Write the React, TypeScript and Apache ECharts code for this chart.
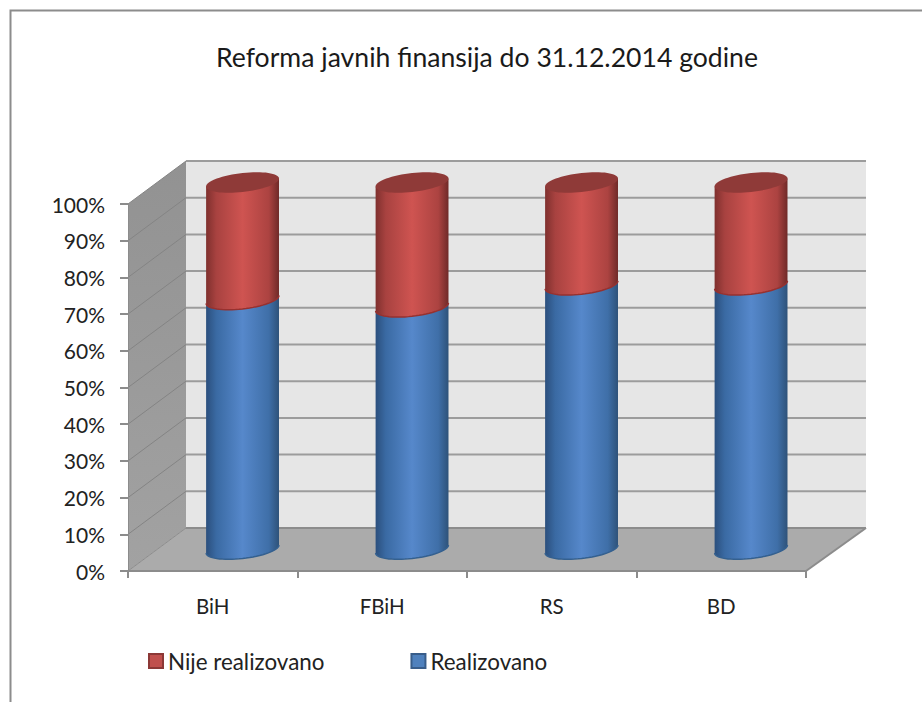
import React, { useEffect, useRef } from "react";
import * as echarts from "echarts";

const titleText = "Reforma javnih finansija do 31.12.2014 godine";
const categories = ["BiH", "FBiH", "RS", "BD"];
const realizovano = [68, 66, 72, 72];
const nijeRealizovano = [32, 34, 28, 28];
const tickValues = [0, 10, 20, 30, 40, 50, 60, 70, 80, 90, 100];

const FONT = "Lato";
const DX = 58;
const DY = 43;

const BLUE_STOPS = [
  [0, "#2b4f7d"], [0.14, "#3a6aa3"], [0.5, "#5688cb"], [0.86, "#3f6fa8"], [1, "#2e5279"],
];
const RED_STOPS = [
  [0, "#7f302e"], [0.14, "#a84240"], [0.5, "#cf5451"], [0.86, "#ac4341"], [1, "#6f2a28"],
];

function grad(stops: any[]) {
  return new echarts.graphic.LinearGradient(
    0, 0, 1, 0,
    stops.map(([offset, color]) => ({ offset, color }))
  );
}

// Tilted ellipse outline point
function ell(cx: number, cy: number, a: number, t: number): [number, number] {
  return [cx + a * Math.cos(t), cy - 4 * Math.cos(t) + 9.5 * Math.sin(t)];
}
function frontArc(cx: number, cy: number, a: number): [number, number][] {
  const pts: [number, number][] = [];
  for (let i = 0; i <= 32; i++) pts.push(ell(cx, cy, a, (Math.PI * i) / 32));
  return pts; // right → left along the front
}
function fullEllipse(cx: number, cy: number, a: number): [number, number][] {
  const pts: [number, number][] = [];
  for (let i = 0; i < 64; i++) pts.push(ell(cx, cy, a, (2 * Math.PI * i) / 64));
  return pts;
}

function cylinderItem(stops: any[], edge: string, topColor: string | null) {
  return (params: any, api: any) => {
    const idx = api.value(0);
    const p0 = api.coord([idx, api.value(1)]);
    const p1 = api.coord([idx, api.value(2)]);
    const band = api.size([1, 0])[0];
    const a = band * 0.215;
    const cx = p0[0] + DX / 2 + 0.8;
    const yb = p0[1] - DY / 2 - 0.5;
    const yt = p1[1] - DY / 2;
    const bottom = frontArc(cx, yb, a); // right → left
    const topBack: [number, number][] = [ell(cx, yt, a, Math.PI), ell(cx, yt, a, 0)];
    const children: any[] = [
      {
        type: "polygon",
        shape: { points: [...bottom, ...topBack] },
        style: { fill: grad(stops) },
      },
      {
        type: "polyline",
        shape: { points: bottom },
        style: { fill: "none", stroke: edge, lineWidth: 1.5 },
      },
    ];
    if (topColor) {
      children.push({
        type: "polygon",
        shape: { points: fullEllipse(cx, yt, a) },
        style: { fill: topColor },
      });
    }
    return { type: "group", children };
  };
}

function wallItem(params: any, api: any) {
  const v = api.value(1);
  const y = api.coord([0, v])[1];
  const cs = params.coordSys;
  const x0 = cs.x;
  const x1 = cs.x + cs.width;
  const yBase = cs.y + cs.height;
  const yTop = cs.y;
  const children: any[] = [];
  if (v === 0) {
    children.push(
      {
        type: "polygon",
        shape: { points: [[x0 + DX, yTop - DY], [x1 + DX + 2, yTop - DY], [x1 + DX + 2, yBase - DY], [x0 + DX, yBase - DY]] },
        style: { fill: "#e6e6e6" },
      },
      {
        type: "polygon",
        shape: { points: [[x0, yTop], [x0 + DX, yTop - DY], [x0 + DX, yBase - DY], [x0, yBase]] },
        style: {
          fill: new echarts.graphic.LinearGradient(0, 0, 0, 1, [
            { offset: 0, color: "#929292" },
            { offset: 1, color: "#a2a2a2" },
          ]),
        },
      },
      {
        type: "polygon",
        shape: { points: [[x0, yBase], [x0 + DX, yBase - DY], [x1 + DX + 2, yBase - DY], [x1, yBase]] },
        style: { fill: "#ababab" },
      },
      {
        type: "line",
        shape: { x1: x0, y1: yBase, x2: x0 + DX, y2: yBase - DY },
        style: { stroke: "#8c8c8c", lineWidth: 1 },
      },
      {
        type: "line",
        shape: { x1: x1, y1: yBase, x2: x1 + DX + 2, y2: yBase - DY },
        style: { stroke: "#8c8c8c", lineWidth: 2 },
      }
    );
  }
  children.push({
    type: "line",
    shape: { x1: x0 + DX, y1: y - DY, x2: x1 + DX + 2, y2: y - DY },
    style: { stroke: v === 0 ? "#8c8c8c" : "#9c9c9c", lineWidth: 2 },
  });
  if (v !== 0) {
    children.push({
      type: "line",
      shape: { x1: x0, y1: y, x2: x0 + DX, y2: y - DY },
      style: { stroke: "#848484", lineWidth: 1 },
    });
  }
  return { type: "group", children };
}

export default function App() {
  const ref = useRef<HTMLDivElement>(null);
  useEffect(() => {
    document.body.style.margin = "0";
    const chart = echarts.init(ref.current!, null, { renderer: "svg" });
    const lower = realizovano.map((v, i) => [i, 0, v]);
    const upper = nijeRealizovano.map((v, i) => [i, realizovano[i], realizovano[i] + v]);
    chart.setOption({
      animation: false,
      backgroundColor: "#ffffff",
      textStyle: { fontFamily: FONT },
      title: {
        text: titleText,
        left: 482,
        top: 38,
        textAlign: "center",
        textStyle: { fontFamily: FONT, fontSize: 26.6, fontWeight: "normal", color: "#1a1a1a" },
      },
      legend: {
        data: ["Nije realizovano", "Realizovano"],
        left: 143,
        top: 645,
        icon: "rect",
        itemWidth: 14,
        itemHeight: 14,
        itemGap: 86,
        textStyle: { fontFamily: FONT, fontSize: 22.4, color: "#222222" },
      },
      grid: { left: 128, width: 678, top: 204, height: 367 },
      xAxis: {
        type: "category",
        data: categories,
        z: 5,
        axisLine: { lineStyle: { color: "#8c8c8c", width: 2 } },
        axisTick: { show: true, length: 7, lineStyle: { color: "#8c8c8c", width: 2 } },
        axisLabel: { fontFamily: FONT, fontSize: 20.5, color: "#222222", margin: 24 },
        splitLine: { show: false },
      },
      yAxis: {
        type: "value",
        min: 0,
        max: 100,
        interval: 10,
        z: 5,
        axisLine: { show: true, lineStyle: { color: "#8c8c8c", width: 1 } },
        axisTick: { show: true, length: 8, lineStyle: { color: "#8c8c8c", width: 2 } },
        axisLabel: { formatter: "{value}%", fontFamily: FONT, fontSize: 21, color: "#222222", margin: 23, padding: [2, 0, 0, 0] },
        splitLine: { show: false },
      },
      graphic: [
        {
          type: "polyline",
          silent: true,
          shape: { points: [[10.5, 702], [10.5, 10.5], [922, 10.5]] },
          style: { fill: "none", stroke: "#8c8c8c", lineWidth: 2 },
        },
      ],
      series: [
        {
          type: "custom",
          name: "walls",
          coordinateSystem: "cartesian2d",
          clip: false,
          silent: true,
          encode: { x: 0, y: 1 },
          data: tickValues.map((v) => [0, v]),
          renderItem: wallItem,
          z: 1,
        },
        {
          type: "custom",
          name: "Realizovano",
          coordinateSystem: "cartesian2d",
          clip: false,
          encode: { x: 0, y: 2 },
          itemStyle: { color: "#4f81bd", borderColor: "#385d8a", borderWidth: 1 },
          data: lower,
          renderItem: cylinderItem(BLUE_STOPS, "#34608f", null),
          z: 2,
        },
        {
          type: "custom",
          name: "Nije realizovano",
          coordinateSystem: "cartesian2d",
          clip: false,
          encode: { x: 0, y: 2 },
          itemStyle: { color: "#c0504d", borderColor: "#8c3836", borderWidth: 1 },
          data: upper,
          renderItem: cylinderItem(RED_STOPS, "#97312f", "#8f3a38"),
          z: 3,
        },
      ],
    });
    return () => chart.dispose();
  }, []);
  return <div ref={ref} style={{ width: 922, height: 702, position: "absolute", left: 0, top: 0 }} />;
}
